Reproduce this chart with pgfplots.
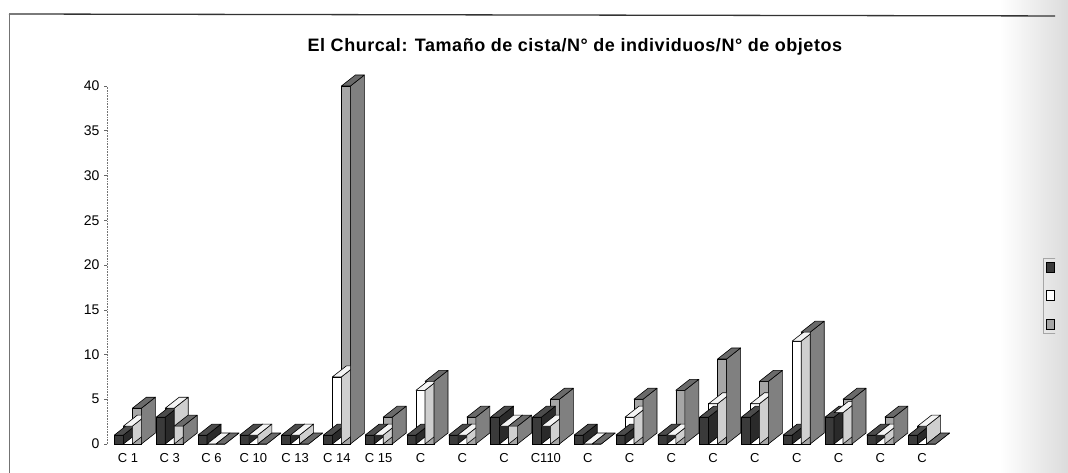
\documentclass[border=0pt]{standalone}
\usepackage{pgfplots}
\pgfplotsset{compat=1.18}
\usepackage{pgfplotstable}
\usepackage{fontspec}
\setmainfont{Liberation Sans}

\definecolor{dkFront}{HTML}{3A3A3A}
\definecolor{dkTop}{HTML}{4C4C4C}
\definecolor{dkSide}{HTML}{2A2A2A}
\definecolor{whFront}{HTML}{FFFFFF}
\definecolor{whTop}{HTML}{F4F4F4}
\definecolor{whSide}{HTML}{CFCFCF}
\definecolor{grFront}{HTML}{A6A6A6}
\definecolor{grTop}{HTML}{6A6A6A}
\definecolor{grSide}{HTML}{808080}

% value read per category: dark = Tamano de cista, white = N de individuos, gray = N de objetos
\pgfplotstableread{
x dark white gray
1 1 2 4
2 3 4 2
3 1 0 0
4 1 1 0
5 1 1 0
6 1 7.5 40
7 1 1 3
8 1 6 7
9 1 1 3
10 3 2 2
11 3 2 5
12 1 0 0
13 1 3 5
14 1 1 6
15 3 4.5 9.5
16 3 4.5 7
17 1 11.5 12.5
18 3 3.5 5
19 1 1 3
20 1 2 0
}\datatab

% depth faces (top + side) of a 3D column, drawn at the data point (top front centre)
\newcommand\prism[3]{%
  \pgfmathsetmacro\pH{-\hv*8.95}%
  \pgfmathsetmacro\pa{#1-4.5}%
  \pgfmathsetmacro\pb{#1+4.5}%
  \pgfmathsetmacro\pc{#1+4.5+14}%
  \pgfmathsetmacro\pd{#1-4.5+14}%
  \pgfmathsetmacro\pe{-\hv*8.95+11}%
  \filldraw[fill=#3,draw=black,line width=0.6pt,line join=round]
     (\pb pt,\pH pt) -- (\pc pt,\pe pt) -- (\pc pt,11pt) -- (\pb pt,0pt) -- cycle;
  \filldraw[fill=#2,draw=black,line width=0.6pt,line join=round]
     (\pa pt,0pt) -- (\pb pt,0pt) -- (\pc pt,11pt) -- (\pd pt,11pt) -- cycle;
}
\pgfdeclareplotmark{prismD}{\prism{-9}{dkTop}{dkSide}}
\pgfdeclareplotmark{prismW}{\prism{0}{whTop}{whSide}}
\pgfdeclareplotmark{prismG}{\prism{9}{grTop}{grSide}}

\begin{document}
\begin{tikzpicture}
\useasboundingbox (0pt,0pt) rectangle (1068pt,472pt);
\shade[left color=white,right color=black!14] (1000pt,0pt) rectangle (1068pt,472pt);
\begin{scope}
\clip (0pt,0pt) rectangle (1055pt,472pt);
\begin{axis}[
  at={(107pt,28pt)}, anchor=south west,
  x=41.8pt, y=8.95pt,
  xmin=0.5, xmax=21, ymin=0, ymax=40,
  clip=false,
  axis lines*=left,
  x axis line style={draw=none},
  y axis line style={densely dotted, black!55, line width=0.6pt},
  xtick={1,...,20},
  xticklabels={C 1, C 3, C 6, C 10, C 13, C 14, C 15, C, C, C, C110, C, C, C, C, C, C, C, C, C},
  xtick style={draw=none},
  xticklabel style={font=\fontsize{13}{15}\selectfont, yshift=-3pt},
  ytick={0,5,...,40},
  ytick style={black!60, line width=0.5pt},
  tick align=outside, major tick length=3pt,
  yticklabel style={font=\fontsize{14}{16}\selectfont, xshift=-1pt},
  /pgf/number format/assume math mode=true,
  title={El Churcal: Tamaño de cista/N° de individuos/N° de objetos},
  title style={at={(axis description cs:0.546,1.092)}, anchor=center,
    font=\bfseries\fontsize{18}{20}\selectfont\addfontfeature{LetterSpace=3}},
  legend style={at={(axis description cs:1.092,0.52)}, anchor=north west, draw=black!35, fill=none,
    font=\fontsize{10}{12}\selectfont, row sep=15.5pt, inner sep=3pt},
  legend cell align=left,
]
\addplot[forget plot, only marks, mark=prismD,
  visualization depends on={\thisrow{dark}\as\hv}] table[x=x,y=dark]{\datatab};
\addplot[ybar, bar width=9pt, bar shift=-9pt, fill=dkFront, draw=black, line width=0.6pt,
  legend image code/.code={\draw[fill=dkFront,draw=black] (0pt,-5pt) rectangle (8pt,5pt);}]
  table[x=x,y=dark]{\datatab};
\addlegendentry{Tamaño de cista}
\addplot[forget plot, only marks, mark=prismW,
  visualization depends on={\thisrow{white}\as\hv}] table[x=x,y=white]{\datatab};
\addplot[ybar, bar width=9pt, bar shift=0pt, fill=whFront, draw=black, line width=0.6pt,
  legend image code/.code={\draw[fill=white,draw=black] (0pt,-5pt) rectangle (8pt,5pt);}]
  table[x=x,y=white]{\datatab};
\addlegendentry{N° de individuos}
\addplot[forget plot, only marks, mark=prismG,
  visualization depends on={\thisrow{gray}\as\hv}] table[x=x,y=gray]{\datatab};
\addplot[ybar, bar width=9pt, bar shift=9pt, fill=grFront, draw=black, line width=0.6pt,
  legend image code/.code={\draw[fill=grFront,draw=black] (0pt,-5pt) rectangle (8pt,5pt);}]
  table[x=x,y=gray]{\datatab};
\addlegendentry{N° de objetos}
\end{axis}
\draw[black!80, line width=1.3pt] (9pt,458pt) -- (1080pt,456pt);
\draw[black!55, line width=0.7pt] (9pt,458pt) -- (9pt,-5pt);
\end{scope}
\end{tikzpicture}
\end{document}
